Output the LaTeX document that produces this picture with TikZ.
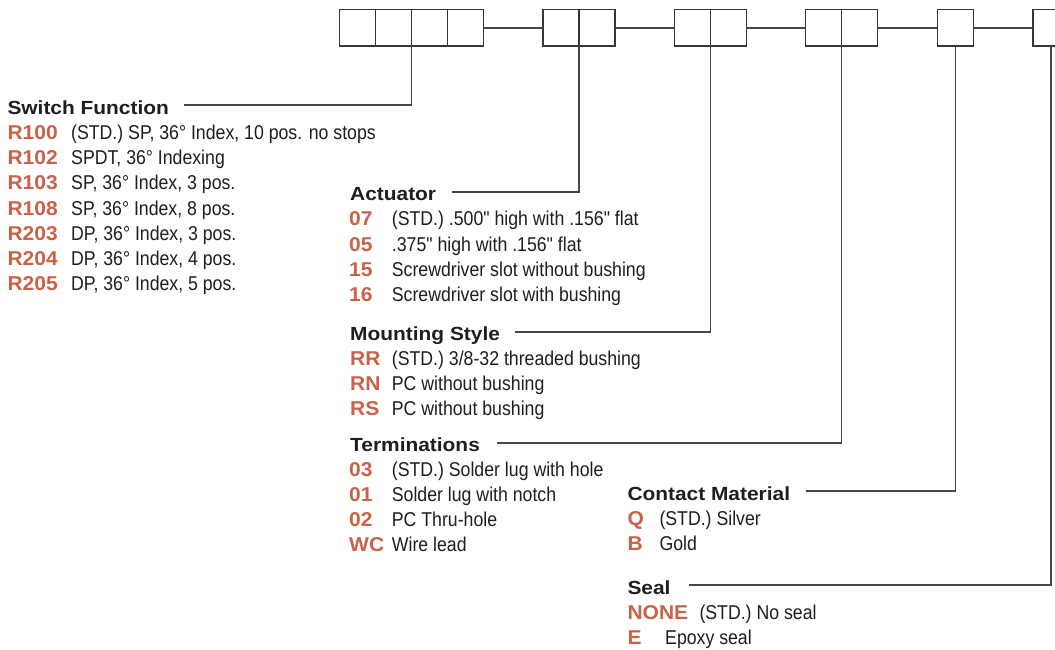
\documentclass[tikz,border=0pt]{standalone}
\usepackage{fontspec}
\newfontfamily\headfont{Liberation Sans}[FakeStretch=1.1]
\newfontfamily\codefont{Liberation Sans}[FakeStretch=1.05]
\newfontfamily\bodyfont{Liberation Sans}[FakeStretch=0.885]
\definecolor{boxgray}{RGB}{55,55,55}
\definecolor{linegray}{RGB}{70,70,70}
\definecolor{headc}{RGB}{30,30,30}
\definecolor{codec}{RGB}{201,98,72}
\definecolor{bodyc}{RGB}{30,30,30}
\begin{document}
\begin{tikzpicture}[x=1pt,y=-1pt,
  cell/.style={draw=boxgray,line width=1.6pt,minimum width=36pt,minimum height=36.5pt,inner sep=0pt,outer sep=0pt,anchor=north west},
  link/.style={draw=linegray,line width=1.7pt},
  lead/.style={draw=linegray,line width=1.6pt},
  head/.style={anchor=base west,inner sep=0pt,text height=18pt,text depth=0pt,font=\headfont\bfseries\fontsize{19}{19}\selectfont,text=headc},
  code/.style={anchor=base west,inner sep=0pt,font=\codefont\bfseries\fontsize{20}{20}\selectfont,text=codec},
  desc/.style={anchor=base west,inner sep=0pt,font=\bodyfont\fontsize{20}{20}\selectfont,text=bodyc}]
\useasboundingbox (0,0) rectangle (1055,649);
\clip (0,0) rectangle (1055,649);
% boxes
\node[cell] (g1a) at (339.3,9.5) {};
\node[cell] (g1b) at (375.3,9.5) {};
\node[cell] (g1c) at (411.3,9.5) {};
\node[cell] (g1d) at (447.3,9.5) {};
\node[cell] (g2a) at (542.7,9.5) {};
\node[cell] (g2b) at (578.7,9.5) {};
\node[cell] (g3a) at (674.4,9.5) {};
\node[cell] (g3b) at (710.4,9.5) {};
\node[cell] (g4a) at (805.3,9.5) {};
\node[cell] (g4b) at (841.3,9.5) {};
\node[cell] (g5) at (937.3,9.5) {};
\node[cell] (g6) at (1032.7,9.5) {};
\draw[link] (g1d.east) -- (g2a.west);
\draw[link] (g2b.east) -- (g3a.west);
\draw[link] (g3b.east) -- (g4a.west);
\draw[link] (g4b.east) -- (g5.west);
\draw[link] (g5.east) -- (g6.west);
% Switch Function
\node[head] (hsf) at (7.3,114) {Switch Function};
\node[code] (c1) at (7.3,139.5) {R100};
\node[desc] (d1) at (71,139.5) {(STD.) SP, 36° Index, 10 pos. no stops};
\node[code] (c2) at (7.3,164.7) {R102};
\node[desc] (d2) at (71,164.7) {SPDT, 36° Indexing};
\node[code] (c3) at (7.3,189.9) {R103};
\node[desc] (d3) at (71,189.9) {SP, 36° Index, 3 pos.};
\node[code] (c4) at (7.3,215.1) {R108};
\node[desc] (d4) at (71,215.1) {SP, 36° Index, 8 pos.};
\node[code] (c5) at (7.3,240.3) {R203};
\node[desc] (d5) at (71,240.3) {DP, 36° Index, 3 pos.};
\node[code] (c6) at (7.3,265.5) {R204};
\node[desc] (d6) at (71,265.5) {DP, 36° Index, 4 pos.};
\node[code] (c7) at (7.3,290.7) {R205};
\node[desc] (d7) at (71,290.7) {DP, 36° Index, 5 pos.};
% Actuator
\node[head] (hact) at (350,200.7) {Actuator};
\node[code] (a1) at (349,225.7) {07};
\node[desc] (ad1) at (391.7,225.7) {(STD.) .500" high with .156" flat};
\node[code] (a2) at (349,251) {05};
\node[desc] (ad2) at (391.7,251) {.375" high with .156" flat};
\node[code] (a3) at (349,276.3) {15};
\node[desc] (ad3) at (391.7,276.3) {Screwdriver slot without bushing};
\node[code] (a4) at (349,301.6) {16};
\node[desc] (ad4) at (391.7,301.6) {Screwdriver slot with bushing};
% Mounting Style
\node[head] (hmnt) at (350,340.7) {Mounting Style};
\node[code] (m1) at (350,365.7) {RR};
\node[desc] (md1) at (391.7,365.7) {(STD.) 3/8-32 threaded bushing};
\node[code] (m2) at (350,390.7) {RN};
\node[desc] (md2) at (391.7,390.7) {PC without bushing};
\node[code] (m3) at (350,415.7) {RS};
\node[desc] (md3) at (391.7,415.7) {PC without bushing};
% Terminations
\node[head] (hterm) at (350,451.7) {Terminations};
\node[code] (t1) at (349,476.7) {03};
\node[desc] (td1) at (391.7,476.7) {(STD.) Solder lug with hole};
\node[code] (t2) at (349,501.7) {01};
\node[desc] (td2) at (391.7,501.7) {Solder lug with notch};
\node[code] (t3) at (349,526.7) {02};
\node[desc] (td3) at (391.7,526.7) {PC Thru-hole};
\node[code] (t4) at (349,551.7) {WC};
\node[desc] (td4) at (391.7,551.7) {Wire lead};
% Contact Material
\node[head] (hcm) at (627.3,500) {Contact Material};
\node[code] (k1) at (627.3,525) {Q};
\node[desc] (kd1) at (659.3,525) {(STD.) Silver};
\node[code] (k2) at (627.3,550) {B};
\node[desc] (kd2) at (659.3,550) {Gold};
% Seal
\node[head] (hseal) at (627.3,594) {Seal};
\node[code] (s1) at (627.3,619.3) {NONE};
\node[desc] (sd1) at (699.3,619.3) {(STD.) No seal};
\node[code] (s2) at (627.3,644) {E};
\node[desc] (sd2) at (665,644) {Epoxy seal};
% leaders
\draw[lead] ([xshift=15pt]hsf.east) -| (g1b.south east);
\draw[lead] ([xshift=16pt]hact.east) -| (g2a.south east);
\draw[lead] ([xshift=15pt]hmnt.east) -| (g3a.south east);
\draw[lead] ([xshift=17pt]hterm.east) -| (g4a.south east);
\draw[lead] ([xshift=16pt]hcm.east) -| (g5.south);
\draw[lead] ([xshift=18pt]hseal.east) -| (g6.south);
\end{tikzpicture}
\end{document}
